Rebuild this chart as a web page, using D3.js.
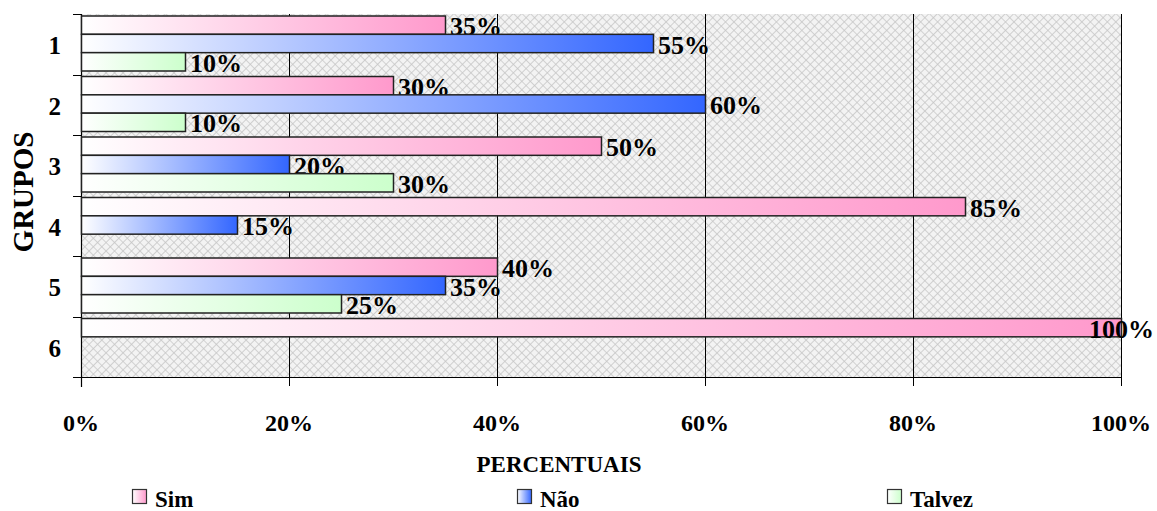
<!DOCTYPE html>
<html>
<head>
<meta charset="utf-8">
<script src="https://cdnjs.cloudflare.com/ajax/libs/d3/7.8.5/d3.min.js"></script>
<style>
    body { margin: 0; background: #fff; }
    text { font-family: "Liberation Serif", "Times New Roman", serif; font-weight: bold; fill: #000; }
</style>
</head>
<body>
<div id="chart"></div>
<script>
var groups = ["1", "2", "3", "4", "5", "6"];
var series = ["Sim", "Não", "Talvez"];
var simValues = [35, 30, 50, 85, 40, 100];
var naoValues = [55, 60, 20, 15, 35, 0];
var talvezValues = [10, 10, 30, 0, 25, 0];
var xTicks = [0, 20, 40, 60, 80, 100];

var seriesValues = [simValues, naoValues, talvezValues];
var endColors = ["#ff99cc", "#3366ff", "#ccffcc"];

var svg = d3.select("#chart")
    .append("svg")
    .attr("width", 1157)
    .attr("height", 511);

var defs = svg.append("defs");

// background crosshatch of the plot area
var pat = defs.append("pattern")
    .attr("id", "hatch")
    .attr("width", 6)
    .attr("height", 6)
    .attr("patternUnits", "userSpaceOnUse")
    .attr("patternTransform", "rotate(45)");
pat.append("rect").attr("width", 6).attr("height", 6).attr("fill", "#f3f3f3");
pat.append("path").attr("d", "M0,0H6M0,0V6").attr("stroke", "#c6c6c6").attr("stroke-width", 1.6);

series.forEach(function (s, i) {
    var g = defs.append("linearGradient")
        .attr("id", "grad" + i)
        .attr("x1", 0).attr("x2", 1).attr("y1", 0).attr("y2", 0);
    g.append("stop").attr("offset", "0%").attr("stop-color", "#ffffff");
    g.append("stop").attr("offset", "100%").attr("stop-color", endColors[i]);
});

var x = d3.scaleLinear().domain([0, 100]).range([81, 1121]);
var y0 = d3.scaleBand().domain(groups).range([14, 377]);
var y1 = d3.scaleBand().domain(series).range([2, y0.bandwidth() - 3.5]);

function px(v) { return Math.round(x(v)) + 0.5; }

svg.append("rect")
    .attr("x", x(0)).attr("y", 14)
    .attr("width", x(100) - x(0)).attr("height", 377 - 14)
    .attr("fill", "url(#hatch)");

// grid lines + bottom ticks
svg.selectAll(".grid")
    .data(xTicks.slice(1))
    .enter().append("line")
    .attr("x1", function (d) { return px(d); })
    .attr("x2", function (d) { return px(d); })
    .attr("y1", 14).attr("y2", 386)
    .attr("stroke", "#000").attr("stroke-width", 1);

svg.append("line")
    .attr("x1", 73).attr("x2", x(100))
    .attr("y1", 377.5).attr("y2", 377.5)
    .attr("stroke", "#000");

svg.append("line")
    .attr("x1", 81.5).attr("x2", 81.5)
    .attr("y1", 14).attr("y2", 387)
    .attr("stroke", "#000").attr("stroke-width", 1.2);

// left ticks at group boundaries
var bounds = groups.map(function (g) { return y0(g); });
svg.selectAll(".ytick")
    .data(bounds)
    .enter().append("line")
    .attr("x1", 73).attr("x2", 81)
    .attr("y1", function (d) { return Math.round(d) + 0.5; })
    .attr("y2", function (d) { return Math.round(d) + 0.5; })
    .attr("stroke", "#000");

// bars
groups.forEach(function (grp, gi) {
    series.forEach(function (s, si) {
        var v = seriesValues[si][gi];
        if (!v) return;
        var top = y0(grp) + y1(s);
        svg.append("rect")
            .attr("x", x(0) + 0.5)
            .attr("y", top)
            .attr("width", x(v) - x(0))
            .attr("height", y1.bandwidth())
            .attr("fill", "url(#grad" + si + ")")
            .attr("stroke", "#222")
            .attr("stroke-width", 1.5);
        var lbl = svg.append("text")
            .attr("x", x(v) + 5)
            .attr("y", top + y1.bandwidth() / 2 + 10)
            .style("font-size", "26px")
            .text(v + "%");
        // label running past the edge is pulled back inside (like 100%)
        if (x(v) + 5 + lbl.node().getComputedTextLength() > 1154) {
            lbl.attr("x", 1154).attr("text-anchor", "end");
        }
    });
});

// group labels
svg.selectAll(".glabel")
    .data(groups)
    .enter().append("text")
    .attr("x", 61)
    .attr("y", function (d) { return y0(d) + y0.bandwidth() / 2 + 10; })
    .attr("text-anchor", "end")
    .style("font-size", "25px")
    .text(function (d) { return d; });

svg.append("text")
    .attr("transform", "translate(33,192) rotate(-90)")
    .attr("text-anchor", "middle")
    .style("font-size", "29px")
    .text("GRUPOS");

// x tick labels
svg.selectAll(".xlabel")
    .data(xTicks)
    .enter().append("text")
    .attr("x", function (d) { return x(d); })
    .attr("y", 431)
    .attr("text-anchor", "middle")
    .style("font-size", "24px")
    .text(function (d) { return d + "%"; });

svg.append("text")
    .attr("x", 559)
    .attr("y", 472)
    .attr("text-anchor", "middle")
    .style("font-size", "23px")
    .text("PERCENTUAIS");

// legend
var legendX = [132, 517, 887];
series.forEach(function (s, i) {
    svg.append("rect")
        .attr("x", legendX[i] + 0.5).attr("y", 489.5)
        .attr("width", 14).attr("height", 14)
        .attr("fill", "url(#grad" + i + ")")
        .attr("stroke", "#333").attr("stroke-width", 1.2);
    svg.append("text")
        .attr("x", legendX[i] + 23)
        .attr("y", 507)
        .style("font-size", "23px")
        .text(s);
});
</script>
</body>
</html>
